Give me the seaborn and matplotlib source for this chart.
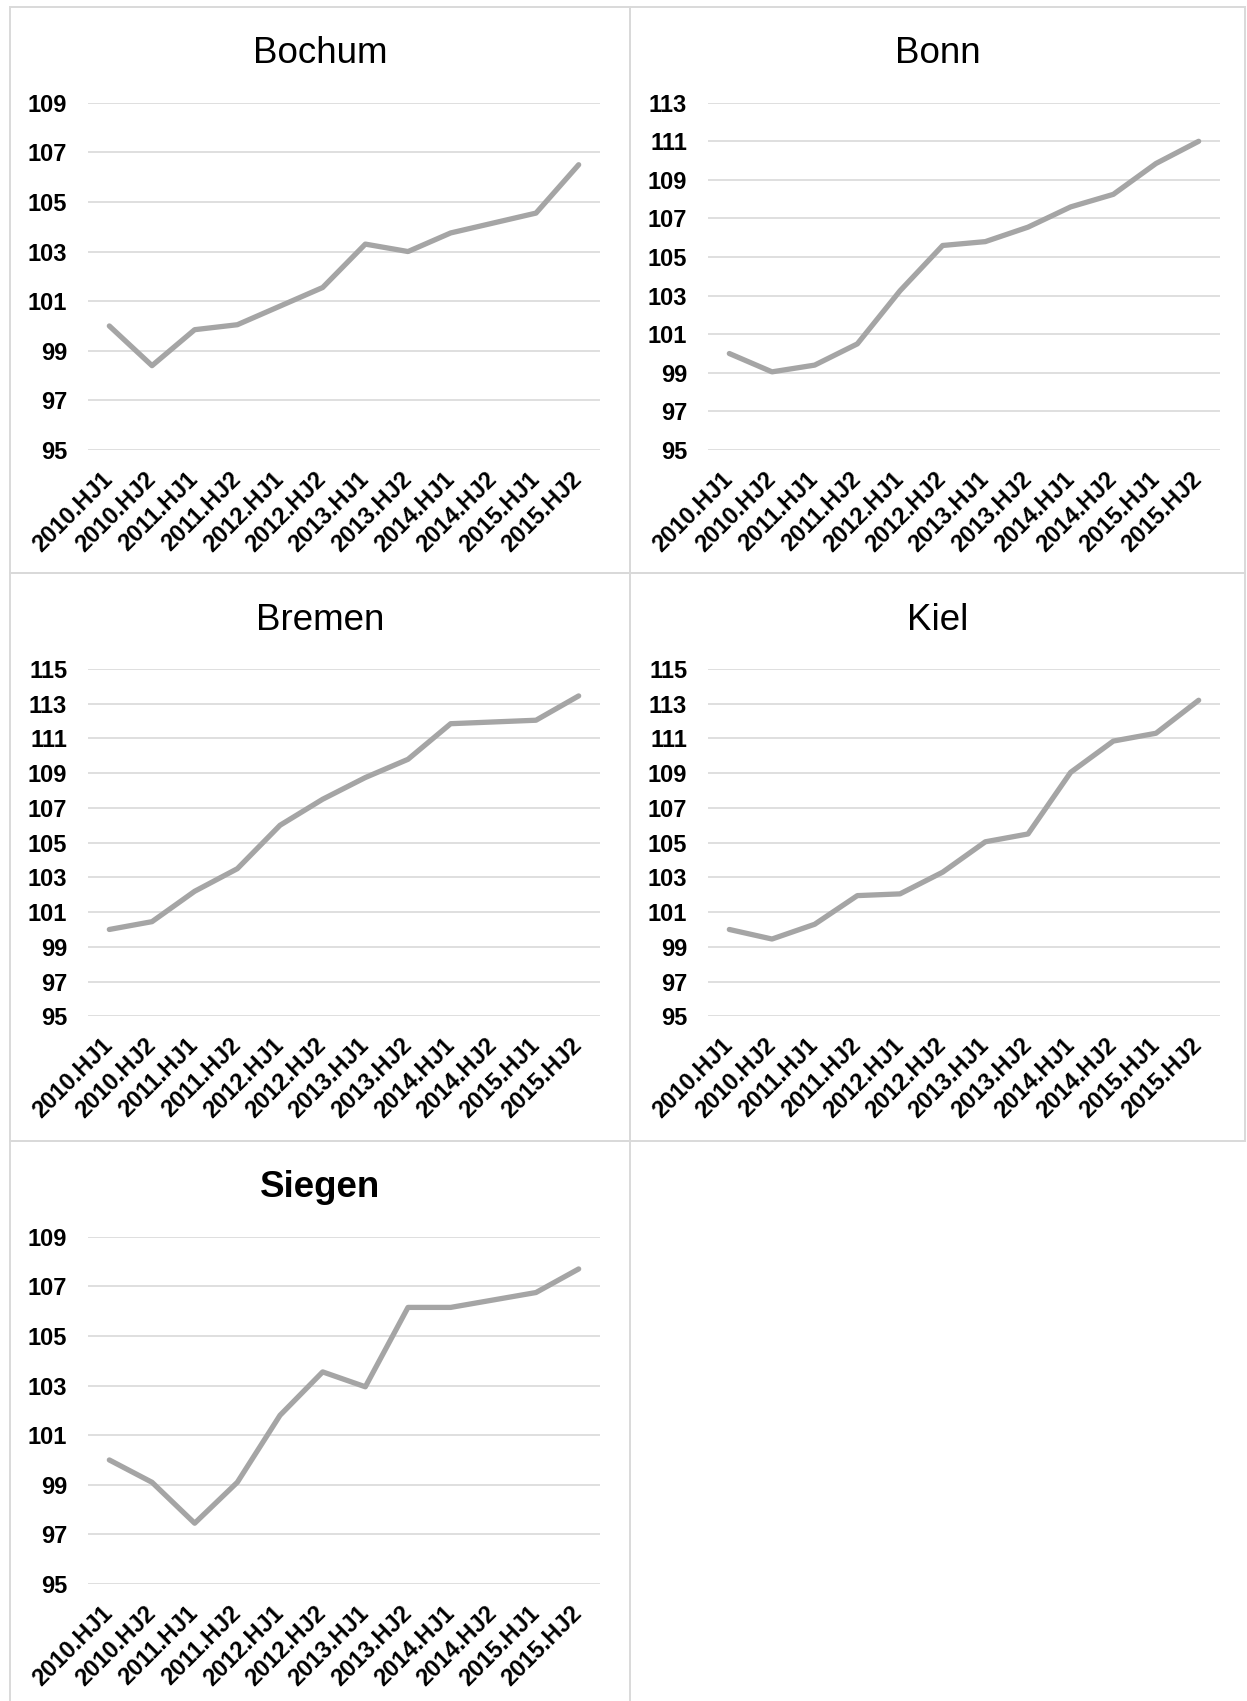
import matplotlib
matplotlib.use("Agg")
import matplotlib.pyplot as plt
from matplotlib.patches import Rectangle
import pandas as pd
import seaborn as sns

# Half-year periods on the category axis
periods = ["2010.HJ1", "2010.HJ2", "2011.HJ1", "2011.HJ2", "2012.HJ1", "2012.HJ2",
           "2013.HJ1", "2013.HJ2", "2014.HJ1", "2014.HJ2", "2015.HJ1", "2015.HJ2"]

# Index values per city (2010.HJ1 = 100)
bochum = [100.0, 98.4, 99.85, 100.05, 100.8, 101.55, 103.3, 103.0, 103.75, 104.15, 104.55, 106.5]
bonn = [100.0, 99.05, 99.4, 100.5, 103.25, 105.6, 105.8, 106.55, 107.6, 108.25, 109.85, 111.0]
bremen = [100.0, 100.45, 102.2, 103.5, 106.0, 107.5, 108.75, 109.8, 111.85, 111.95, 112.05, 113.45]
kiel = [100.0, 99.45, 100.3, 101.95, 102.05, 103.3, 105.05, 105.5, 109.05, 110.85, 111.3, 113.2]
siegen = [100.0, 99.1, 97.45, 99.1, 101.8, 103.55, 102.95, 106.15, 106.15, 106.45, 106.75, 107.7]

cities = ["Bochum", "Bonn", "Bremen", "Kiel", "Siegen"]
series = [bochum, bonn, bremen, kiel, siegen]
y_tops = [109, 113, 115, 115, 109]
bold_titles = [False, False, False, False, True]

sns.set_style("white")
plt.rcParams["font.family"] = ["Liberation Sans", "DejaVu Sans"]
plt.rcParams["text.color"] = "black"
plt.rcParams["xtick.color"] = "black"
plt.rcParams["ytick.color"] = "black"

W, H = 1247, 1701
fig = plt.figure(figsize=(W / 100, H / 100), dpi=100)
fig.patch.set_facecolor("white")

# Chart frames in pixel coordinates (x0, y0, x1, y1), y measured from the top
frames = [(10, 6.7, 630, 573), (630, 6.7, 1245, 573),
          (10, 573, 630, 1140.7), (630, 573, 1245, 1140.7),
          (10, 1140.7, 630, 1708)]

LINE_GREY = "#a5a5a5"
GRID_GREY = "#d9d9d9"


def to_fig(x0, y0, x1, y1):
    return [x0 / W, 1 - y1 / H, (x1 - x0) / W, (y1 - y0) / H]


for name, values, ytop, bold, (bx0, by0, bx1, by1) in zip(cities, series, y_tops, bold_titles, frames):
    l, b, w, h = to_fig(bx0, by0, bx1, by1)
    fig.add_artist(Rectangle((l, b), w, h, transform=fig.transFigure, fill=False,
                             edgecolor=GRID_GREY, linewidth=1.4))

    ax = fig.add_axes(to_fig(bx0 + 78, by0 + 96, bx0 + 590, by0 + 443.3))
    df = pd.DataFrame({"Periode": periods, "Index": values})
    sns.lineplot(data=df, x="Periode", y="Index", ax=ax, color=LINE_GREY,
                 linewidth=3.8, sort=False, solid_capstyle="round",
                 solid_joinstyle="round")

    ax.set_xlim(-0.5, len(periods) - 0.5)
    ax.set_ylim(95, ytop)
    ax.set_yticks(list(range(95, ytop + 1, 2)))
    ax.grid(axis="y", color=GRID_GREY, linewidth=1.2)
    ax.grid(axis="x", visible=False)
    for spine in ax.spines.values():
        spine.set_visible(False)
    ax.set_xlabel("")
    ax.set_ylabel("")
    ax.tick_params(axis="both", length=0, labelsize=17)
    ax.tick_params(axis="y", pad=15)
    ax.tick_params(axis="x", pad=18.5)
    for lab in ax.get_yticklabels():
        lab.set_fontweight("bold")
    for lab in ax.get_xticklabels():
        lab.set_fontweight("bold")
        lab.set_rotation(45)
        lab.set_ha("right")
        lab.set_va("center")
        lab.set_rotation_mode("anchor")

    fig.text((bx0 + bx1) / 2 / W, 1 - (by0 + 47) / H, name, ha="center", va="center",
             fontsize=26.5, fontweight="bold" if bold else "normal")

fig.savefig("out.png", dpi=100, facecolor="white")
